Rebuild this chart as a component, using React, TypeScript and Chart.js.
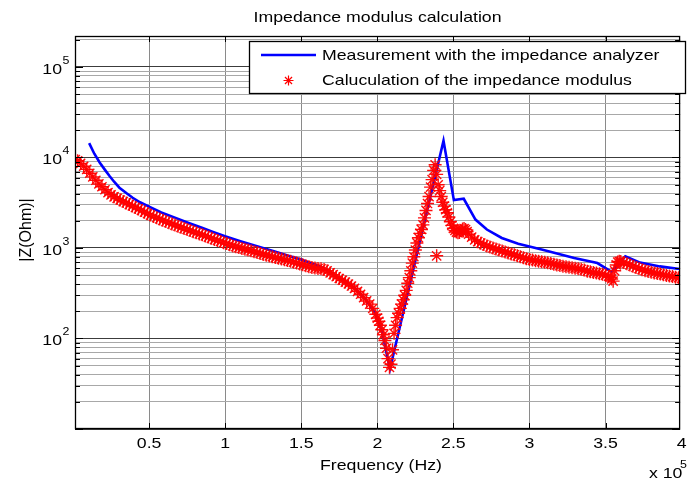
import React, { useEffect, useRef } from 'react';
import { Chart, registerables } from 'chart.js';

Chart.register(...registerables);

// ---------- data (frequency in kHz, |Z| in Ohm) ----------
const measured: [number, number][] = [
  [10.6, 14400], [14, 11000], [17.5, 8800], [21, 7300], [24, 6250], [27, 5400], [30.5, 4640],
  [35, 4050], [39.2, 3590], [44, 3200], [50, 2860], [58, 2470], [67.4, 2150], [76, 1890],
  [84.7, 1670], [92, 1500], [99.9, 1345], [110, 1190], [121.5, 1042], [132, 920], [143.1, 807],
  [150, 745], [156.1, 681], [162, 630], [168, 560], [174, 480], [180, 420], [186, 350],
  [192, 275], [198, 200], [203, 120], [208.3, 46], [243.5, 15300], [250.3, 3380], [256.8, 3500],
  [264.5, 2060], [272, 1600], [281.8, 1290], [292.6, 1117], [308, 960], [329.4, 774],
  [344.6, 681], [354, 545], [363, 807], [372.7, 690], [385.7, 626], [398.7, 585],
];

const calculated: [number, number][] = [
  [1.5, 9500], [3, 9200], [5, 8600], [7, 8000], [9, 7400], [11, 6700], [13, 6100], [15, 5600],
  [17, 5100], [19, 4750], [21, 4400], [23, 4100], [25, 3870], [27, 3680], [29, 3530], [31, 3390],
  [33, 3260], [35, 3150], [37, 3020], [39, 2910], [41, 2800], [43, 2700], [45, 2600], [47, 2490],
  [49, 2390], [51, 2310], [53, 2230], [55, 2160], [57, 2090], [59, 2020], [61, 1960], [63, 1900],
  [65, 1840], [67, 1790], [69, 1740], [71, 1690], [73, 1640], [75, 1600], [77, 1560], [79, 1510],
  [81, 1470], [83, 1430], [85, 1400], [87, 1360], [89, 1320], [91, 1280], [93, 1240], [95, 1210],
  [97, 1180], [99, 1145], [101, 1120], [103, 1085], [105, 1055], [107, 1035], [109, 1010],
  [111, 990], [113, 970], [115, 950], [117, 930], [119, 910], [121, 890], [123, 870], [125, 850],
  [127, 833], [129, 816], [131, 800], [133, 783], [135, 768], [137, 755], [139, 742], [141, 728],
  [143, 712], [145, 697], [147, 682], [149, 665], [151, 652], [153, 638], [155, 622], [157, 610],
  [159, 600], [161, 592], [163, 588], [165, 580], [167, 560], [169, 530], [171, 508], [173, 482],
  [175, 460], [177, 440], [179, 420], [181, 400], [183, 380], [185, 358], [187, 332], [189, 308],
  [191, 283], [193, 260], [195, 240], [197, 215], [199, 185], [200, 168], [201, 155], [202, 140],
  [203, 125], [204, 110], [205, 95], [206, 78], [207, 60], [208, 48], [209, 52], [210, 75],
  [211, 114], [212, 140], [213, 170], [214, 190], [215, 215], [216, 240], [217, 267], [218, 300],
  [219, 340], [220, 408], [221, 470], [222, 560], [223, 681], [224, 800], [225, 950], [226, 1137],
  [227, 1300], [228, 1450], [229, 1600], [230, 1800], [231, 2150], [232, 2600], [233, 3100],
  [234, 3700], [235, 4700], [236, 5700], [237, 7200], [238, 8300], [239, 6500], [239, 820],
  [240, 5000], [241, 4300], [242, 3700], [243, 3200], [244, 2900], [245, 2650], [246, 2450],
  [247, 2200], [248, 1950], [249, 1780], [250, 1650], [251, 1560], [252, 1500], [253, 1470],
  [254, 1480], [255, 1560], [256, 1620], [257, 1640], [258, 1600], [259, 1520], [260, 1420],
  [262, 1320], [264, 1230], [266, 1175], [268, 1130], [270, 1090], [272, 1055], [274, 1025],
  [276, 1000], [278, 972], [280, 948], [282, 925], [284, 902], [286, 880], [288, 860], [290, 840],
  [292, 820], [294, 800], [296, 780], [298, 762], [300, 745], [302, 735], [304, 725], [306, 715],
  [308, 705], [310, 695], [312, 685], [314, 675], [316, 663], [318, 650], [320, 640], [322, 630],
  [324, 622], [326, 614], [328, 606], [330, 598], [332, 590], [334, 582], [336, 570], [338, 555],
  [340, 545], [342, 535], [344, 528], [346, 520], [348, 512], [350, 502], [352, 488], [353, 475],
  [354, 455], [355, 430], [356, 560], [357, 650], [358, 700], [359, 712], [360, 710], [362, 690],
  [364, 670], [366, 650], [368, 630], [370, 610], [372, 592], [374, 575], [376, 562], [378, 550],
  [380, 540], [382, 530], [384, 522], [386, 515], [388, 505], [390, 497], [392, 490], [394, 483],
  [396, 476], [398, 470], [400, 462],
];

const titleText = 'Impedance modulus calculation';
const xTitle = 'Frequency (Hz)';
const yTitle = '|Z(Ohm)|';
const legendLabels = ['Measurement with the impedance analyzer', 'Caluculation of the impedance modulus'];
const xTickValues = [50000, 100000, 150000, 200000, 250000, 300000, 350000, 400000];
const xTickLabels = ['0.5', '1', '1.5', '2', '2.5', '3', '3.5', '4'];
const yLabelValues = [100, 1000, 10000, 100000];
const yLabelExps = ['2', '3', '4', '5'];
const xMultiplierBase = 'x 10';
const xMultiplierExp = '5';

const X_MIN = 1300;
const X_MAX = 399000;
const Y_MIN = 10;
const Y_MAX = 220000;

const AREA = { left: 75, top: 36, right: 687, bottom: 429 };

const FONT = '"Liberation Sans", Arial, Helvetica, sans-serif';
const SX = 1.18;

function yGrid(): number[] {
  const out: number[] = [];
  for (let d = 10; d <= 100000; d *= 10) {
    for (let m = 1; m <= 9; m++) {
      const v = d * m;
      if (v >= Y_MIN && v <= Y_MAX) out.push(v);
    }
  }
  return out;
}

function isDecade(v: number) {
  const l = Math.log10(v);
  return Math.abs(l - Math.round(l)) < 1e-9;
}

function txt(ctx: CanvasRenderingContext2D, s: string, x: number, y: number, size: number,
  align: CanvasTextAlign = 'center', sx = SX) {
  ctx.save();
  ctx.translate(x, y);
  ctx.scale(sx, 1);
  ctx.font = `${size}px ${FONT}`;
  ctx.textAlign = align;
  ctx.textBaseline = 'middle';
  ctx.fillStyle = '#000';
  ctx.fillText(s, 0, 0);
  ctx.restore();
}

const decor = {
  id: 'decor',
  beforeDraw(chart: any) {
    const ctx = chart.ctx;
    ctx.save();
    ctx.fillStyle = '#fff';
    ctx.fillRect(0, 0, chart.width, chart.height);
    ctx.restore();
  },
  afterDraw(chart: any) {
    const ctx: CanvasRenderingContext2D = chart.ctx;
    const ca = chart.chartArea;
    const xs = chart.scales.x;
    const ys = chart.scales.y;
    ctx.save();
    ctx.strokeStyle = '#000';
    ctx.lineWidth = 1;
    ctx.beginPath();
    for (const v of yGrid()) {
      const p = Math.round(ys.getPixelForValue(v)) + 0.5;
      const len = isDecade(v) ? 8 : 5;
      ctx.moveTo(ca.left, p); ctx.lineTo(ca.left + len, p);
      ctx.moveTo(ca.right, p); ctx.lineTo(ca.right - len, p);
    }
    for (const v of xTickValues) {
      if (v > X_MAX) continue;
      const p = Math.round(xs.getPixelForValue(v)) + 0.5;
      ctx.moveTo(p, ca.bottom); ctx.lineTo(p, ca.bottom - 6);
      ctx.moveTo(p, ca.top); ctx.lineTo(p, ca.top + 6);
    }
    ctx.stroke();
    ctx.lineWidth = 1.3;
    ctx.strokeRect(ca.left + 0.5, ca.top + 0.5, ca.right - ca.left - 1, ca.bottom - ca.top - 1);
    ctx.restore();

    xTickValues.forEach((v, i) => {
      txt(ctx, xTickLabels[i], xs.getPixelForValue(v), 444, 15);
    });
    yLabelValues.forEach((v, i) => {
      const p = ys.getPixelForValue(v);
      txt(ctx, '10', 62, p + 2.5, 15, 'right');
      txt(ctx, yLabelExps[i], 62.5, p - 6, 10.5, 'left');
    });
    txt(ctx, xMultiplierBase, 649, 473.5, 15, 'left');
    txt(ctx, xMultiplierExp, 680, 465.5, 10.5, 'left');

    txt(ctx, titleText, (ca.left + ca.right) / 2, 18, 15);
    txt(ctx, xTitle, 381, 465.5, 15);
    ctx.save();
    ctx.translate(27, 230);
    ctx.rotate(-Math.PI / 2);
    ctx.font = `16px ${FONT}`;
    ctx.textAlign = 'center';
    ctx.textBaseline = 'middle';
    ctx.fillStyle = '#000';
    ctx.fillText(yTitle, 0, 0);
    ctx.restore();

    // legend
    ctx.save();
    ctx.fillStyle = '#fff';
    ctx.fillRect(249.5, 41.5, 436, 52);
    ctx.strokeStyle = '#000';
    ctx.lineWidth = 1.3;
    ctx.strokeRect(249.5, 41.5, 436, 52);
    ctx.strokeStyle = '#0000ff';
    ctx.lineWidth = 2.6;
    ctx.beginPath();
    ctx.moveTo(261, 55); ctx.lineTo(316, 55);
    ctx.stroke();
    ctx.strokeStyle = '#ff0000';
    ctx.lineWidth = 1.2;
    const cx = 288.5, cy = 80.5, r = 5;
    ctx.beginPath();
    ctx.moveTo(cx - r, cy); ctx.lineTo(cx + r, cy);
    ctx.moveTo(cx, cy - r); ctx.lineTo(cx, cy + r);
    const d = r * 0.707;
    ctx.moveTo(cx - d, cy - d); ctx.lineTo(cx + d, cy + d);
    ctx.moveTo(cx - d, cy + d); ctx.lineTo(cx + d, cy - d);
    ctx.stroke();
    ctx.restore();
    txt(ctx, legendLabels[0], 322, 56, 15, 'left');
    txt(ctx, legendLabels[1], 322, 81, 15, 'left');
  },
};

export default function App() {
  const ref = useRef<HTMLCanvasElement | null>(null);
  useEffect(() => {
    if (!ref.current) return;
    const chart = new Chart(ref.current, {
      type: 'scatter',
      data: {
        datasets: [
          {
            label: legendLabels[0],
            data: measured.map(([f, z]) => ({ x: f * 1000, y: z })),
            showLine: true,
            borderColor: '#0000ff',
            backgroundColor: '#0000ff',
            borderWidth: 2.6,
            pointRadius: 0,
            tension: 0,
            order: 1,
          },
          {
            label: legendLabels[1],
            data: calculated.map(([f, z]) => ({ x: f * 1000, y: z })),
            showLine: false,
            pointStyle: 'star',
            pointRadius: 6.5,
            borderColor: 'rgba(255,0,0,0.95)',
            backgroundColor: 'rgba(255,0,0,0.95)',
            borderWidth: 1.4,
            order: 0,
          },
        ],
      },
      options: {
        responsive: false,
        animation: false,
        events: [],
        layout: { padding: { left: AREA.left, top: AREA.top, right: 688 - AREA.right, bottom: 482 - AREA.bottom } },
        plugins: { legend: { display: false }, tooltip: { enabled: false }, title: { display: false } },
        scales: {
          x: {
            type: 'linear',
            min: X_MIN,
            max: X_MAX,
            afterBuildTicks: (s: any) => { s.ticks = xTickValues.filter((v) => v <= X_MAX).map((v) => ({ value: v })); },
            ticks: { display: false },
            grid: { color: '#8a8a8a', lineWidth: 1, drawTicks: false },
            border: { display: false },
            title: { display: false },
          },
          y: {
            type: 'logarithmic',
            min: Y_MIN,
            max: Y_MAX,
            afterBuildTicks: (s: any) => { s.ticks = yGrid().map((v) => ({ value: v, major: isDecade(v) })); },
            ticks: { display: false },
            grid: {
              drawTicks: false,
              lineWidth: 1,
              color: (c: any) => (c.tick && isDecade(c.tick.value) ? '#3c3c3c' : '#a8a8a8'),
            },
            border: { display: false },
            title: { display: false },
          },
        },
      },
      plugins: [decor],
    } as any);
    return () => chart.destroy();
  }, []);
  return (
    <div style={{ position: 'absolute', left: 0, top: 0, width: 688, height: 482 }}>
      <canvas ref={ref} width={688} height={482} style={{ display: 'block', width: 688, height: 482 }} />
    </div>
  );
}
